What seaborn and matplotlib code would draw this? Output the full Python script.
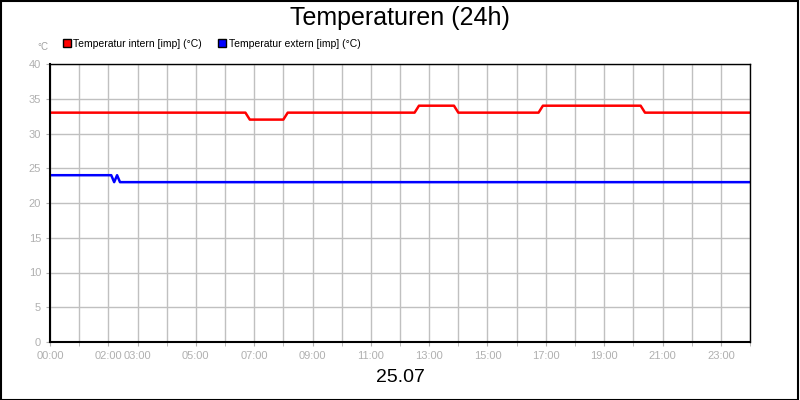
import matplotlib
matplotlib.use("Agg")
import matplotlib.pyplot as plt
import seaborn as sns
import pandas as pd
from matplotlib.patches import Rectangle
from matplotlib.lines import Line2D

intern_t = [0, 6.7, 6.85, 8.0, 8.15, 12.5, 12.65, 13.85, 14.0, 16.75, 16.9, 20.25, 20.4, 24]
intern_v = [33, 33, 32, 32, 33, 33, 34, 34, 33, 33, 34, 34, 33, 33]
extern_t = [0, 2.1, 2.2, 2.3, 2.4, 24]
extern_v = [24, 24, 23, 24, 23, 23]
tick_hours = [0, 2, 3, 5, 7, 9, 11, 13, 15, 17, 19, 21, 23]
tick_labels = [f"{h:02d}:00" for h in tick_hours]

sns.set_style("white")
plt.rcParams['font.family'] = ['Liberation Sans', 'DejaVu Sans']
fig = plt.figure(figsize=(8, 4), dpi=100)
ax = fig.add_axes([50/800, 58/400, 700/800, 278/400])
df1 = pd.DataFrame({"t": intern_t, "v": intern_v})
df2 = pd.DataFrame({"t": extern_t, "v": extern_v})
sns.lineplot(data=df1, x="t", y="v", ax=ax, color="#ff0000", lw=1.8)
sns.lineplot(data=df2, x="t", y="v", ax=ax, color="#0000ff", lw=1.8)
ax.set_xlim(0, 24); ax.set_ylim(0, 40)
ax.set_xticks(range(25), minor=True)
ax.set_xticks(tick_hours)
ax.set_xticklabels(tick_labels)
ax.set_yticks(range(0, 41, 5))
ax.grid(True, which="both", color="#c0c0c0", lw=1)
ax.tick_params(axis="both", which="both", colors="#b0b0b0", labelsize=8, length=3, direction="out", bottom=True, left=True)
for s in ["top", "right"]:
    ax.spines[s].set_color("black"); ax.spines[s].set_linewidth(1)
for s in ["left", "bottom"]:
    ax.spines[s].set_color("black"); ax.spines[s].set_linewidth(1.5)
ax.set_xlabel(""); ax.set_ylabel("")
fig.text(0.5, 0.955, "Temperaturen (24h)", ha="center", va="center", fontsize=18, color="black")
fig.text(0.5, 0.055, "25.07", ha="center", va="center", fontsize=14, color="black")
fig.text(37/800, 1-47/400, "°C", ha="left", va="center", fontsize=7, color="#a0a0a0")
h = [Line2D([], [], marker="s", ls="", markerfacecolor="#ff0000", markeredgecolor="black", markersize=6),
     Line2D([], [], marker="s", ls="", markerfacecolor="#0000ff", markeredgecolor="black", markersize=6)]
leg = fig.legend(h, ["Temperatur intern [imp] (°C)", "Temperatur extern [imp] (°C)"], loc="center left",
           bbox_to_anchor=(52/800, 1-44/400), ncol=2, frameon=False, fontsize=7.5,
           handletextpad=0.1, columnspacing=1.5, handlelength=1)
for t in leg.get_texts():
    t.set_color("black")
fig.patches.append(Rectangle((0.001, 0.001), 0.997, 0.997, transform=fig.transFigure, fill=False, ec="black", lw=1.5))
fig.savefig("out.png", dpi=100)
